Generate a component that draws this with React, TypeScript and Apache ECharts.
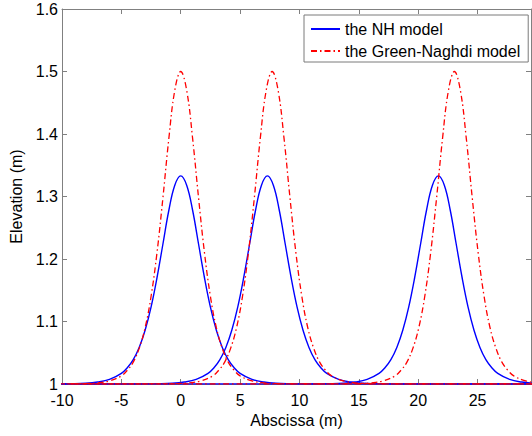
import React, { useEffect, useRef } from "react";
import * as echarts from "echarts";

// Distance from a wave crest (m) at which the profile was read
const waveOffsets = [-32, -20, -12, -10, -8, -7, -6, -5, -4.5, -4, -3.5, -3, -2.5, -2, -1.5, -1, -0.5, 0, 0.5, 1, 1.5, 2, 2.5, 3, 3.5, 4, 4.5, 5, 6, 7, 8, 10, 12, 20, 32];
// Elevation (m) of one NH-model wave at those offsets
const nhProfile = [1, 1, 1, 1.0002, 1.0013, 1.0031, 1.0073, 1.017, 1.026, 1.039, 1.0585, 1.086, 1.123, 1.17, 1.224, 1.278, 1.318, 1.333, 1.318, 1.278, 1.224, 1.17, 1.123, 1.086, 1.0585, 1.039, 1.026, 1.017, 1.0073, 1.0031, 1.0013, 1.0002, 1, 1, 1];
// Elevation (m) of one Green-Naghdi wave at those offsets
const gnProfile = [1, 1, 1, 1.0001, 1.0007, 1.0018, 1.005, 1.013, 1.022, 1.035, 1.057, 1.09, 1.14, 1.21, 1.298, 1.393, 1.47, 1.5, 1.47, 1.393, 1.298, 1.21, 1.14, 1.09, 1.057, 1.035, 1.022, 1.013, 1.005, 1.0018, 1.0007, 1.0001, 1, 1, 1];
// Crest positions (m) at the three snapshots
const nhCrests = [0, 7.3, 21.7];
const gnCrests = [0, 7.7, 23.05];

const seriesNames = ["the NH model", "the Green-Naghdi model"];
const xTicks = { min: -10, max: 29.5, interval: 5 };
const yTicks = { min: 1, max: 1.6, interval: 0.1 };

const FONT = "'Liberation Sans', Arial, Helvetica, sans-serif";
const AXIS_COLOR = "#808080";

function wave(crest: number, profile: number[]) {
  return waveOffsets.map((d, i) => [crest + d, profile[i]]);
}

export default function App() {
  const ref = useRef<HTMLDivElement>(null);
  useEffect(() => {
    if (!ref.current) return;
    const chart = echarts.init(ref.current, null, { renderer: "svg" });
    const axisCommon = {
      axisLine: { show: true, onZero: false, lineStyle: { color: AXIS_COLOR, width: 1 } },
      axisTick: { show: true, inside: true, length: 5, lineStyle: { color: AXIS_COLOR } },
      splitLine: { show: false },
    };
    const series: any[] = [];
    nhCrests.forEach((c) =>
      series.push({
        name: seriesNames[0],
        type: "line",
        data: wave(c, nhProfile),
        symbol: "none",
        smooth: 0.4,
        lineStyle: { color: "#0000ff", width: 1.4, type: "solid" },
        itemStyle: { color: "#0000ff" },
        z: 2,
      })
    );
    gnCrests.forEach((c) =>
      series.push({
        name: seriesNames[1],
        type: "line",
        data: wave(c, gnProfile),
        symbol: "none",
        smooth: 0.4,
        lineStyle: { color: "#ff0000", width: 1.3, type: [6, 3, 1.5, 3] },
        itemStyle: { color: "#ff0000" },
        z: 3,
      })
    );
    chart.setOption({
      animation: false,
      backgroundColor: "#ffffff",
      textStyle: { fontFamily: FONT },
      grid: { left: 62, top: 9, right: 1, bottom: 52, containLabel: false },
      legend: {
        data: seriesNames,
        orient: "vertical",
        left: 304,
        top: 15,
        padding: [6, 8, 3, 6],
        itemWidth: 29,
        itemHeight: 14,
        itemGap: 6,
        itemStyle: { opacity: 0 },
        borderColor: "#7a7a7a",
        borderWidth: 1,
        backgroundColor: "#ffffff",
        textStyle: { fontFamily: FONT, fontSize: 16, color: "#000" },
      },
      xAxis: [
        {
          type: "value",
          position: "bottom",
          ...xTicks,
          ...axisCommon,
          name: "Abscissa (m)",
          nameLocation: "middle",
          nameGap: 28,
          nameTextStyle: { fontFamily: FONT, fontSize: 16, color: "#000" },
          axisLabel: { fontFamily: FONT, fontSize: 16, color: "#000", margin: 8, showMaxLabel: false },
        },
        {
          type: "value",
          position: "top",
          ...xTicks,
          ...axisCommon,
          axisLabel: { show: false },
        },
      ],
      yAxis: [
        {
          type: "value",
          position: "left",
          ...yTicks,
          ...axisCommon,
          name: "Elevation (m)",
          nameLocation: "middle",
          nameGap: 28,
          nameTextStyle: { fontFamily: FONT, fontSize: 16, color: "#000" },
          axisLabel: {
            fontFamily: FONT,
            fontSize: 16,
            color: "#000",
            margin: 4,
            formatter: (v: number) => String(+v.toFixed(1)),
          },
        },
        {
          type: "value",
          position: "right",
          ...yTicks,
          ...axisCommon,
          axisLabel: { show: false },
        },
      ],
      series,
    });
    return () => chart.dispose();
  }, []);
  return (
    <div
      ref={ref}
      style={{ position: "absolute", left: 0, top: 0, width: 532, height: 436 }}
    />
  );
}
